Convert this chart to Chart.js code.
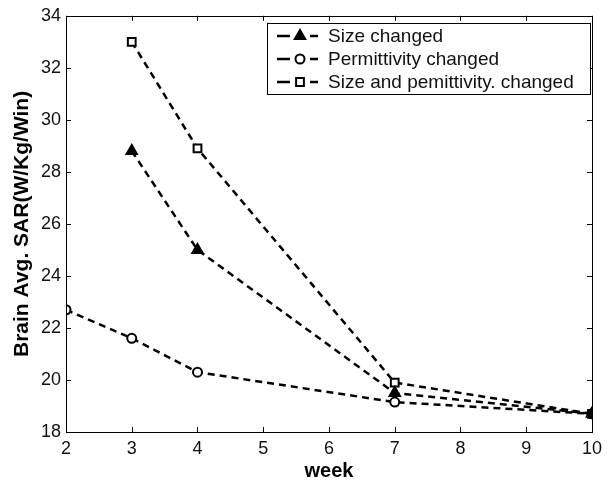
<!DOCTYPE html>
<html>
<head>
<meta charset="utf-8">
<script src="https://cdn.jsdelivr.net/npm/chart.js@4/dist/chart.umd.min.js"></script>
<style>
html,body{margin:0;padding:0;background:#fff;}
#wrap{width:608px;height:483px;position:relative;}
</style>
</head>
<body>
<div id="wrap"><canvas id="c" width="608" height="483"></canvas></div>
<script>
// ---- data ----
const seriesNames = ["Size changed", "Permittivity changed", "Size and pemittivity. changed"];
const weeksSize = [3, 4, 7, 10];
const sarSize = [28.8, 25.0, 19.5, 18.7];
const weeksPerm = [2, 3, 4, 7, 10];
const sarPerm = [22.7, 21.6, 20.3, 19.15, 18.7];
const weeksBoth = [3, 4, 7, 10];
const sarBoth = [33.0, 28.9, 19.9, 18.7];
const xTicks = [2, 3, 4, 5, 6, 7, 8, 9, 10];
const yTicks = [18, 20, 22, 24, 26, 28, 30, 32, 34];
const xTitle = "week";
const yTitle = "Brain Avg. SAR(W/Kg/Win)";

const toPts = (xs, ys) => xs.map((x, i) => ({x: x, y: ys[i]}));
const FONT = "'Liberation Sans', Arial, sans-serif";

const frameTicks = {
  id: 'frameTicks',
  afterDatasetsDraw(chart) {
    const {ctx, chartArea: a, scales} = chart;
    ctx.save();
    ctx.strokeStyle = '#000';
    ctx.lineWidth = 1;
    ctx.strokeRect(Math.round(a.left) + 0.5, Math.round(a.top) + 0.5,
                   Math.round(a.right - a.left), Math.round(a.bottom - a.top));
    const L = 5;
    ctx.beginPath();
    xTicks.forEach(v => {
      const px = Math.round(scales.x.getPixelForValue(v)) + 0.5;
      ctx.moveTo(px, a.bottom); ctx.lineTo(px, a.bottom - L);
      ctx.moveTo(px, a.top); ctx.lineTo(px, a.top + L);
    });
    yTicks.forEach(v => {
      const py = Math.round(scales.y.getPixelForValue(v)) + 0.5;
      ctx.moveTo(a.left, py); ctx.lineTo(a.left + L, py);
      ctx.moveTo(a.right, py); ctx.lineTo(a.right - L, py);
    });
    ctx.stroke();
    ctx.restore();
  }
};

const boxLegend = {
  id: 'boxLegend',
  afterDraw(chart) {
    const {ctx} = chart;
    const bx = 267, by = 23, bw = 323, bh = 71;
    ctx.save();
    ctx.fillStyle = '#fff';
    ctx.fillRect(bx, by, bw, bh);
    ctx.strokeStyle = '#000';
    ctx.lineWidth = 1;
    ctx.strokeRect(bx + 0.5, by + 0.5, bw, bh);
    chart.data.datasets.forEach((ds, i) => {
      const y = 36 + i * 23;
      ctx.strokeStyle = '#000';
      ctx.lineWidth = 2.5;
      ctx.beginPath();
      ctx.moveTo(277, y); ctx.lineTo(290, y);
      ctx.moveTo(310, y); ctx.lineTo(318, y);
      ctx.stroke();
      ctx.fillStyle = ds.pointBackgroundColor;
      ctx.strokeStyle = '#000';
      ctx.lineWidth = ds.pointBorderWidth;
      Chart.helpers.drawPoint(ctx, {
        pointStyle: ds.pointStyle, radius: ds.pointRadius, borderWidth: ds.pointBorderWidth
      }, 300, y);
      ctx.fillStyle = '#111';
      ctx.font = "19px " + FONT;
      ctx.textBaseline = 'middle';
      ctx.textAlign = 'left';
      ctx.fillText(ds.label, 328, y + 1);
    });
    ctx.restore();
  }
};

const common = {
  borderColor: '#000', borderWidth: 2.5, borderDash: [7, 5],
  pointBorderColor: '#000', pointBorderWidth: 2, showLine: true, fill: false, tension: 0
};

new Chart(document.getElementById('c'), {
  type: 'scatter',
  data: {
    datasets: [
      Object.assign({}, common, {label: seriesNames[0], data: toPts(weeksSize, sarSize),
        pointStyle: 'triangle', pointRadius: 6, pointBackgroundColor: '#000'}),
      Object.assign({}, common, {label: seriesNames[1], data: toPts(weeksPerm, sarPerm),
        pointStyle: 'circle', pointRadius: 4.5, pointBackgroundColor: '#fff'}),
      Object.assign({}, common, {label: seriesNames[2], data: toPts(weeksBoth, sarBoth),
        pointStyle: 'rect', pointRadius: 5.5, pointBackgroundColor: '#fff'})
    ]
  },
  options: {
    responsive: false,
    animation: false,
    devicePixelRatio: 1,
    layout: {padding: {top: 15, right: 11, left: 0, bottom: 0}},
    plugins: {legend: {display: false}, tooltip: {enabled: false}},
    scales: {
      x: {
        type: 'linear', min: 2, max: 10,
        afterBuildTicks: s => { s.ticks = xTicks.map(v => ({value: v})); },
        afterFit: s => { s.height = 51; },
        grid: {display: false, drawTicks: false},
        border: {display: false},
        ticks: {color: '#111', font: {family: FONT, size: 18}, padding: 6, maxRotation: 0},
        title: {display: true, text: xTitle, color: '#000',
          font: {family: FONT, size: 20, weight: 'bold', lineHeight: 1.2}, padding: {top: 0, bottom: 0}}
      },
      y: {
        type: 'linear', min: 18, max: 34,
        afterBuildTicks: s => { s.ticks = yTicks.map(v => ({value: v})); },
        afterFit: s => { s.width = 66; },
        grid: {display: false, drawTicks: false},
        border: {display: false},
        ticks: {color: '#111', font: {family: FONT, size: 18}, padding: 5},
        title: {display: true, text: yTitle, color: '#000',
          font: {family: FONT, size: 21, weight: 'bold', lineHeight: 1.2}, padding: {top: 10, bottom: 0}}
      }
    }
  },
  plugins: [frameTicks, boxLegend]
});
</script>
</body>
</html>
